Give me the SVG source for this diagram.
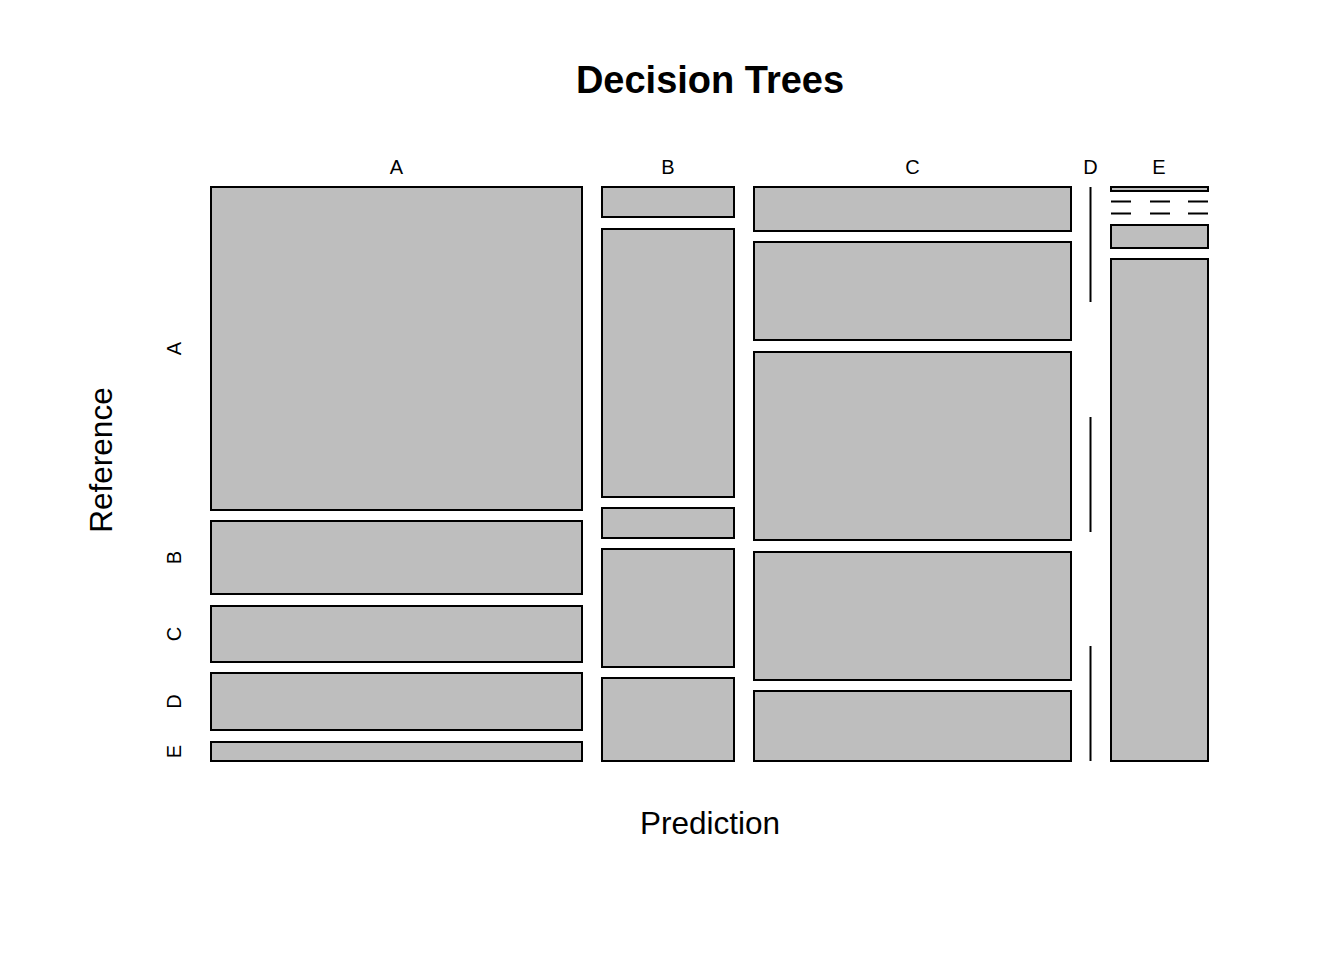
<svg xmlns="http://www.w3.org/2000/svg" width="1344" height="960" viewBox="0 0 1344 960">
<style>
.cell{fill:#bebebe;stroke:#000;stroke-width:2}
.z{stroke:#000;stroke-width:2;fill:none}
.t{font-family:"Liberation Sans",Arial,sans-serif;fill:#000}
.tick{font-size:20px;text-anchor:middle}
.lab{font-size:31.5px;text-anchor:middle}
</style>
<rect width="1344" height="960" fill="#fff"/>
<text class="t" x="710" y="93" font-size="38" font-weight="bold" text-anchor="middle">Decision Trees</text>
<text class="t lab" x="710" y="834">Prediction</text>
<text class="t lab" transform="translate(112,460) rotate(-90)">Reference</text>
<g id="col-labels">
<text class="t tick" x="396.5" y="174">A</text>
<text class="t tick" x="668" y="174">B</text>
<text class="t tick" x="912.5" y="174">C</text>
<text class="t tick" x="1090.5" y="174">D</text>
<text class="t tick" x="1159" y="174">E</text>
</g>
<g id="row-labels">
<text class="t tick" transform="translate(181,348.5) rotate(-90)">A</text>
<text class="t tick" transform="translate(181,557.5) rotate(-90)">B</text>
<text class="t tick" transform="translate(181,634) rotate(-90)">C</text>
<text class="t tick" transform="translate(181,701.5) rotate(-90)">D</text>
<text class="t tick" transform="translate(181,751.5) rotate(-90)">E</text>
</g>
<g id="col-A">
<rect class="cell" x="211" y="187" width="371" height="323"/>
<rect class="cell" x="211" y="521" width="371" height="73"/>
<rect class="cell" x="211" y="606" width="371" height="56"/>
<rect class="cell" x="211" y="673" width="371" height="57"/>
<rect class="cell" x="211" y="742" width="371" height="19"/>
</g>
<g id="col-B">
<rect class="cell" x="602" y="187" width="132" height="30"/>
<rect class="cell" x="602" y="229" width="132" height="268"/>
<rect class="cell" x="602" y="508" width="132" height="30"/>
<rect class="cell" x="602" y="549" width="132" height="118"/>
<rect class="cell" x="602" y="678" width="132" height="83"/>
</g>
<g id="col-C">
<rect class="cell" x="754" y="187" width="317" height="44"/>
<rect class="cell" x="754" y="242" width="317" height="98"/>
<rect class="cell" x="754" y="352" width="317" height="188"/>
<rect class="cell" x="754" y="552" width="317" height="128"/>
<rect class="cell" x="754" y="691" width="317" height="70"/>
</g>
<g id="col-D">
<line class="z" x1="1090.5" y1="187" x2="1090.5" y2="302"/>
<line class="z" x1="1090.5" y1="417" x2="1090.5" y2="532"/>
<line class="z" x1="1090.5" y1="646" x2="1090.5" y2="761"/>
</g>
<g id="col-E">
<rect class="cell" x="1111" y="187" width="97" height="4"/>
<path class="z" d="M1111 201.5H1131M1150 201.5H1170M1188 201.5H1208M1111 213.5H1131M1150 213.5H1170M1188 213.5H1208"/>
<rect class="cell" x="1111" y="225" width="97" height="23"/>
<rect class="cell" x="1111" y="259" width="97" height="502"/>
</g>
</svg>
